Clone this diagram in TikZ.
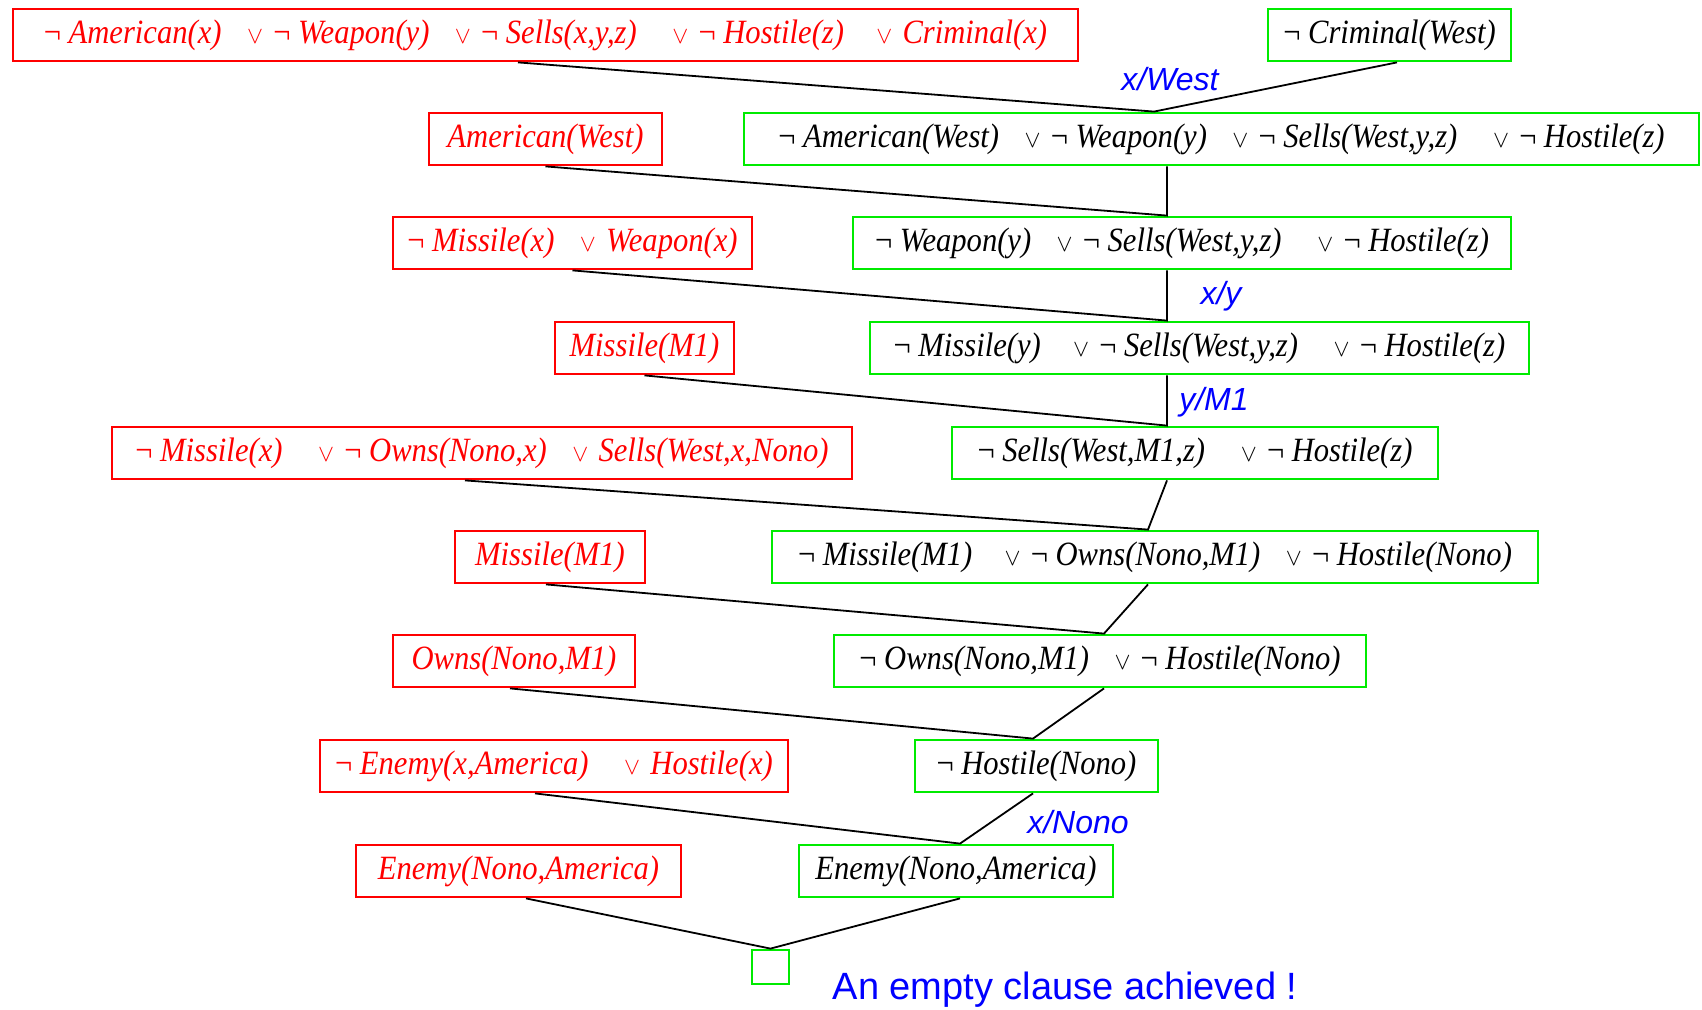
\documentclass[tikz,border=0pt]{standalone}
\usepackage{fontspec}
\newfontfamily\cf{Liberation Serif}[FakeStretch=0.9]
\newfontfamily\lf{Liberation Sans}
\usetikzlibrary{calc}
\definecolor{bgreen}{RGB}{0,235,0}
\definecolor{bred}{RGB}{255,0,0}
\definecolor{bblue}{RGB}{0,0,255}
\newcommand{\myneg}{{\upshape ¬}\hspace{0.22em}}
\newcommand{\myor}{\hspace{0.75em}{\upshape\fontsize{13}{13}\selectfont$\vee$}\hspace{0.3em}}
\begin{document}
\begin{tikzpicture}[x=0.5pt,y=-0.5pt,
  clause/.style={draw, line width=1.4pt, inner sep=0pt, minimum height=26pt,
    font=\fontsize{17}{20}\selectfont\cf\itshape},
  rbox/.style={clause, draw=bred, text=bred},
  gbox/.style={clause, draw=bgreen, text=black},
  conn/.style={draw=black, line width=0.9pt},
  sublabel/.style={text=bblue, font=\fontsize{16}{19}\selectfont\lf\itshape, inner sep=0pt}]
\useasboundingbox (0,0) rectangle (1702,1010);

% row 1
\node[rbox, minimum width=532.5pt] (A) at (545.5,35) {\myneg American(x)\myor\myneg Weapon(y)\myor\myneg Sells(x,y,z)\hspace{0.3em}\myor\myneg Hostile(z)\hspace{0.2em}\myor Criminal(x)};
\node[gbox, minimum width=121.5pt] (G1) at (1389.5,35) {\myneg Criminal(West)};
% row 2
\node[rbox, minimum width=116.5pt] (R2) at (545.5,139) {American(West)};
\node[gbox, minimum width=477.5pt] (G2) at (1221.5,139) {\myneg American(West)\myor\myneg Weapon(y)\myor\myneg Sells(West,y,z)\hspace{0.3em}\myor\myneg Hostile(z)};
% row 3
\node[rbox, minimum width=179.5pt] (R3) at (572.5,243) {\myneg Missile(x)\myor Weapon(x)};
\node[gbox, minimum width=329pt] (G3) at (1182,243) {\myneg Weapon(y)\myor\myneg Sells(West,y,z)\hspace{0.3em}\myor\myneg Hostile(z)};
% row 4
\node[rbox, minimum width=89.5pt] (R4) at (644.5,348) {Missile(M1)};
\node[gbox, minimum width=329.5pt] (G4) at (1199.5,348) {\myneg Missile(y)\hspace{0.2em}\myor\myneg Sells(West,y,z)\hspace{0.3em}\myor\myneg Hostile(z)};
% row 5
\node[rbox, minimum width=370pt] (R5) at (482,453) {\myneg Missile(x)\hspace{0.3em}\myor\myneg Owns(Nono,x)\myor Sells(West,x,Nono)};
\node[gbox, minimum width=243pt] (G5) at (1195,453) {\myneg Sells(West,M1,z)\hspace{0.3em}\myor\myneg Hostile(z)};
% row 6
\node[rbox, minimum width=95pt] (R6) at (550,557) {Missile(M1)};
\node[gbox, minimum width=383pt] (G6) at (1155,557) {\myneg Missile(M1)\hspace{0.2em}\myor\myneg Owns(Nono,M1)\myor\myneg Hostile(Nono)};
% row 7
\node[rbox, minimum width=121pt] (R7) at (514,661) {Owns(Nono,M1)};
\node[gbox, minimum width=266pt] (G7) at (1100,661) {\myneg Owns(Nono,M1)\myor\myneg Hostile(Nono)};
% row 8
\node[rbox, minimum width=234pt] (R8) at (554,766) {\myneg Enemy(x,America)\hspace{0.3em}\myor Hostile(x)};
\node[gbox, minimum width=121.5pt] (G8) at (1036.5,766) {\myneg Hostile(Nono)};
% row 9
\node[rbox, minimum width=162.5pt] (R9) at (518.5,871) {Enemy(Nono,America)};
\node[gbox, minimum width=157pt] (G9) at (956,871) {Enemy(Nono,America)};
% empty clause
\node[draw=bgreen, line width=1.4pt, inner sep=0pt, minimum width=18.5pt, minimum height=17pt] (E) at (770.5,967) {};

% junction points
\coordinate (j2) at ([xshift=-33.75pt]G2.north);
\coordinate (j3) at ([xshift=-7.5pt]G3.north);
\coordinate (j4) at ([xshift=-16.25pt]G4.north);
\coordinate (j5) at ([xshift=-14pt]G5.north);
\coordinate (j6) at ([xshift=-3.5pt]G6.north);
\coordinate (j7) at ([xshift=2pt]G7.north);
\coordinate (j8) at ([xshift=-1.75pt]G8.north);
\coordinate (j9) at ([xshift=2pt]G9.north);

% connectors
\draw[conn] ([xshift=-13.75pt]A.south) -- (j2) -- ([xshift=3.75pt]G1.south);
\draw[conn] (R2.south) -- (j3) -- (G2.south -| j3);
\draw[conn] (R3.south) -- (j4) -- (G3.south -| j4);
\draw[conn] (R4.south) -- (j5) -- (G4.south -| j5);
\draw[conn] ([xshift=-8.5pt]R5.south) -- (j6) -- ([xshift=-14pt]G5.south);
\draw[conn] ([xshift=-2pt]R6.south) -- (j7) -- ([xshift=-3.5pt]G6.south);
\draw[conn] ([xshift=-2pt]R7.south) -- (j8) -- ([xshift=2pt]G7.south);
\draw[conn] ([xshift=-9.5pt]R8.south) -- (j9) -- ([xshift=-1.75pt]G8.south);
\draw[conn] ([xshift=3.75pt]R9.south) -- (E.north) -- ([xshift=2pt]G9.south);

% substitution labels
\node[sublabel] (l1) at (1170,79) {x/West};
\node[sublabel] (l2) at (1221,296) {x/y};
\node[sublabel] (l3) at (1214,402) {y/M1};
\node[sublabel] (l4) at (1078,822) {x/Nono};

\node[text=bblue, font=\fontsize{19}{22}\selectfont\lf, inner sep=0pt] (done) at (1065,990) {An empty clause achieved !};
\end{tikzpicture}
\end{document}
